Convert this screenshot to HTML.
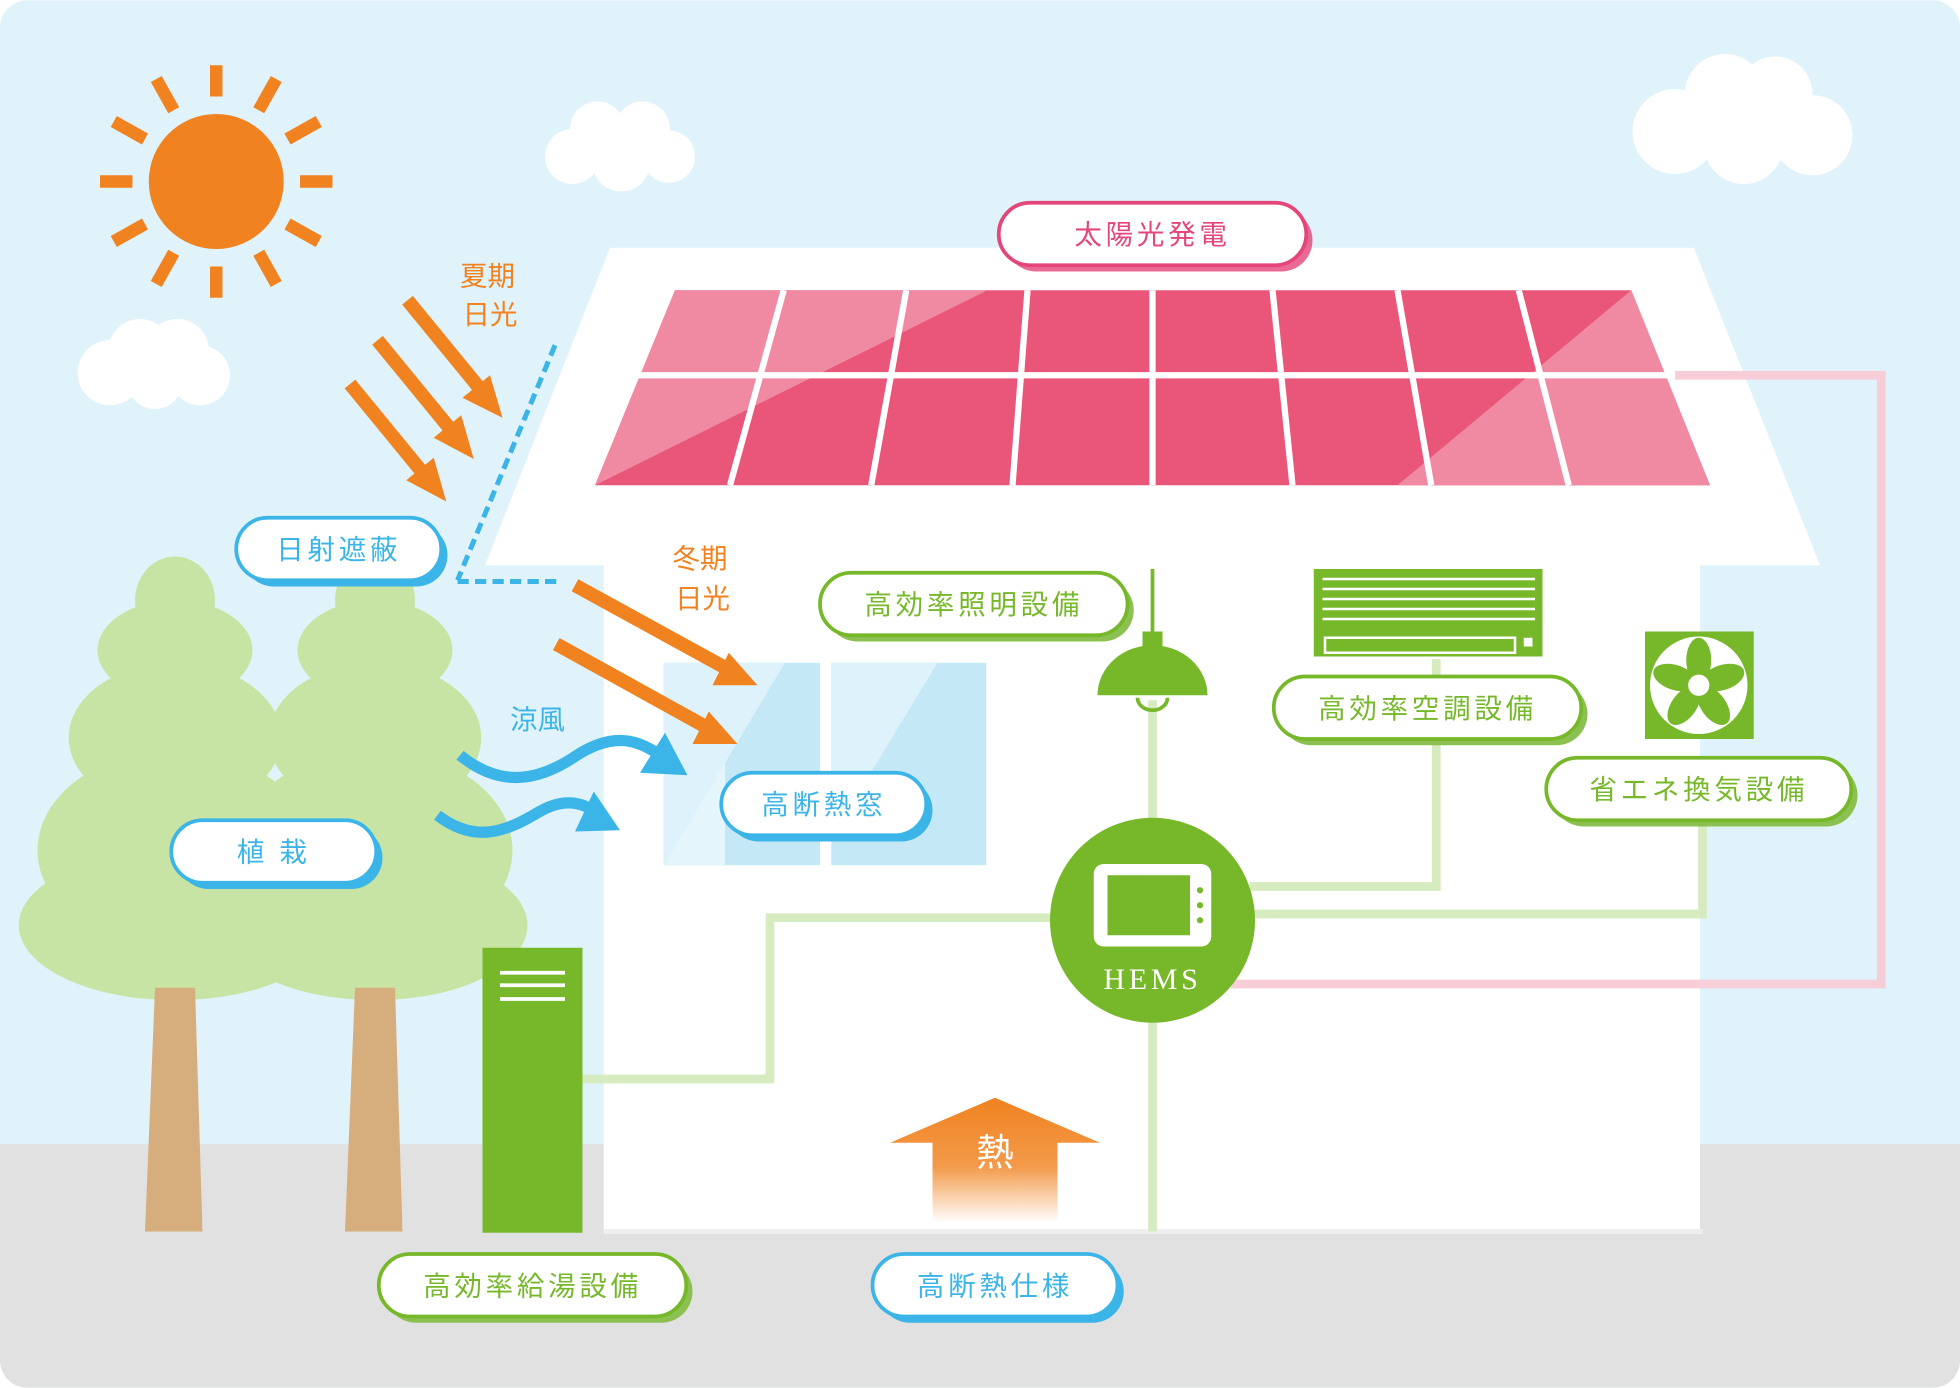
<!DOCTYPE html>
<html><head><meta charset="utf-8"><style>html,body{margin:0;padding:0;background:#fff}svg{display:block}text{font-family:"Liberation Sans","Noto Sans CJK JP",sans-serif}</style></head>
<body>
<svg width="1960" height="1388" viewBox="0 0 1568 1110" xmlns="http://www.w3.org/2000/svg">
<defs>
<clipPath id="bg"><rect x="0" y="0" width="1568" height="1110" rx="22"/></clipPath>
<linearGradient id="heat" x1="0" y1="0" x2="0" y2="1"><stop offset="0" stop-color="#f08220"/><stop offset="0.55" stop-color="#f39a4a"/><stop offset="1" stop-color="#fff"/></linearGradient>
</defs>
<g clip-path="url(#bg)">
<rect width="1568" height="1110" fill="#e0f3fa"/>
<rect y="915" width="1568" height="195" fill="#e1e1e1"/>
</g>
<!-- sun -->
<g fill="#f08220">
<circle cx="173" cy="145" r="54"/>
<g stroke="#f08220" stroke-width="10">
<line x1="173" y1="52" x2="173" y2="77"/><line x1="173" y1="213" x2="173" y2="238"/>
<line x1="80" y1="145" x2="106" y2="145"/><line x1="240" y1="145" x2="266" y2="145"/>
<line x1="125" y1="63" x2="139" y2="88"/><line x1="207" y1="202" x2="221" y2="227"/>
<line x1="91" y1="97" x2="116" y2="111"/><line x1="230" y1="179" x2="255" y2="193"/>
<line x1="221" y1="63" x2="207" y2="88"/><line x1="139" y1="202" x2="125" y2="227"/>
<line x1="255" y1="97" x2="230" y2="111"/><line x1="116" y1="179" x2="91" y2="193"/>
</g></g>
<!-- clouds -->
<g fill="#fff">
<circle cx="88" cy="298" r="26"/><circle cx="112" cy="280" r="25"/><circle cx="142" cy="280" r="25"/><circle cx="160" cy="300" r="24"/><circle cx="124" cy="305" r="22"/>
<circle cx="458" cy="125" r="22"/><circle cx="478" cy="103" r="22"/><circle cx="514" cy="103" r="22"/><circle cx="535" cy="125" r="21"/><circle cx="497" cy="130" r="23"/>
<circle cx="1340" cy="105" r="34"/><circle cx="1380" cy="75" r="32"/><circle cx="1420" cy="75" r="30"/><circle cx="1450" cy="108" r="32"/><circle cx="1395" cy="115" r="32"/>
</g>
<!-- house -->
<polygon points="488,198 1355,198 1456,452 388,452" fill="#fff"/>
<rect x="483" y="450" width="877" height="535" fill="#fff"/>
<rect x="483" y="983" width="879" height="4" fill="#eee"/>
<!-- panels -->
<polygon points="540,232 1305,232 1368,388 476,388" fill="#e95679"/>
<polygon points="540,232 790,232 476,388" fill="#f08aa3"/>
<polygon points="1305,232 1368,388 1118,388" fill="#f08aa3"/>
<g stroke="#fff" stroke-width="5">
<line x1="500" y1="300" x2="1345" y2="300"/>
<line x1="627" y1="232" x2="584" y2="388"/><line x1="725" y1="232" x2="697" y2="388"/>
<line x1="822" y1="232" x2="810" y2="388"/><line x1="922" y1="232" x2="922" y2="388"/>
<line x1="1018" y1="232" x2="1034" y2="388"/><line x1="1118" y1="232" x2="1145" y2="388"/>
<line x1="1215" y1="232" x2="1255" y2="388"/>
</g>
<!-- lines -->
<polyline points="1340,300 1505,300 1505,787 985,787" fill="none" stroke="#f7cdd8" stroke-width="7"/>
<g fill="none" stroke="#d6ebc0" stroke-width="7">
<polyline points="466,863 616,863 616,734 842,734"/>
<line x1="922" y1="560" x2="922" y2="985"/>
<polyline points="1000,709 1149,709 1149,527"/>
<polyline points="1000,731 1362,731 1362,655"/>
</g>
<!-- windows -->
<rect x="531" y="530" width="125" height="162" fill="#c5e8f7"/>
<rect x="665" y="530" width="124" height="162" fill="#c5e8f7"/>
<polygon points="531,530 628,530 531,692" fill="#def2fb"/>
<polygon points="665,530 750,530 665,670" fill="#def2fb"/>
<polygon points="531,692 580,610 580,692" fill="#e4f5fc"/>
<!-- trees -->
<g fill="#c8e4a4">
<ellipse cx="140" cy="480" rx="32" ry="35"/><ellipse cx="140" cy="520" rx="62" ry="40"/><ellipse cx="140" cy="590" rx="85" ry="60"/><ellipse cx="140" cy="680" rx="110" ry="80"/><ellipse cx="140" cy="740" rx="125" ry="60"/><rect x="40" y="640" width="200" height="150" rx="40"/>
<ellipse cx="300" cy="480" rx="32" ry="35"/><ellipse cx="300" cy="520" rx="62" ry="40"/><ellipse cx="300" cy="590" rx="85" ry="60"/><ellipse cx="300" cy="680" rx="110" ry="80"/><ellipse cx="300" cy="740" rx="122" ry="60"/><rect x="200" y="640" width="200" height="150" rx="40"/>
</g>
<polygon points="124,790 156,790 162,985 116,985" fill="#d6ae7e"/>
<polygon points="284,790 316,790 322,985 276,985" fill="#d6ae7e"/>
<!-- water heater -->
<rect x="386" y="758" width="80" height="228" fill="#76b82a"/>
<g stroke="#fff" stroke-width="3"><line x1="400" y1="778" x2="452" y2="778"/><line x1="400" y1="788" x2="452" y2="788"/><line x1="400" y1="799" x2="452" y2="799"/></g>
<!-- light -->
<line x1="922" y1="455" x2="922" y2="510" stroke="#76b82a" stroke-width="3"/>
<rect x="914" y="505" width="16" height="14" fill="#76b82a"/>
<path d="M878,556 A44,40 0 0 1 966,556 Z" fill="#76b82a"/>
<path d="M910,558 A12,10 0 0 0 934,558" fill="none" stroke="#76b82a" stroke-width="3"/>
<!-- AC -->
<rect x="1051" y="455" width="183" height="70" fill="#76b82a"/>
<g stroke="#fff" stroke-width="2"><line x1="1058" y1="463" x2="1228" y2="463"/><line x1="1058" y1="471" x2="1228" y2="471"/><line x1="1058" y1="479" x2="1228" y2="479"/><line x1="1058" y1="487" x2="1228" y2="487"/><line x1="1058" y1="495" x2="1228" y2="495"/></g>
<rect x="1060" y="510" width="152" height="12" fill="none" stroke="#fff" stroke-width="2"/>
<rect x="1219" y="510" width="7" height="7" fill="#fff"/>
<!-- fan -->
<rect x="1316" y="505" width="87" height="86" fill="#76b82a"/>
<circle cx="1359" cy="548" r="39" fill="#fff"/>
<g fill="#76b82a">
<ellipse cx="1359" cy="528" rx="10" ry="18"/>
<ellipse cx="1359" cy="528" rx="10" ry="18" transform="rotate(72 1359 548)"/>
<ellipse cx="1359" cy="528" rx="10" ry="18" transform="rotate(144 1359 548)"/>
<ellipse cx="1359" cy="528" rx="10" ry="18" transform="rotate(216 1359 548)"/>
<ellipse cx="1359" cy="528" rx="10" ry="18" transform="rotate(288 1359 548)"/>
</g>
<circle cx="1359" cy="548" r="10" fill="#fff" stroke="#76b82a" stroke-width="3"/>
<!-- HEMS -->
<circle cx="922" cy="736" r="82" fill="#76b82a"/>
<rect x="875" y="691" width="94" height="66" rx="8" fill="#fff"/>
<rect x="886" y="700" width="66" height="48" fill="#76b82a"/>
<circle cx="960" cy="712" r="2.5" fill="#76b82a"/><circle cx="960" cy="724" r="2.5" fill="#76b82a"/><circle cx="960" cy="736" r="2.5" fill="#76b82a"/>
<text x="922" y="791" text-anchor="middle" fill="#fff" font-size="24" letter-spacing="3" style="font-family:'Liberation Serif',serif">HEMS</text>
<!-- heat arrow -->
<polygon points="712,914 796,878 880,914 846,914 846,978 746,978 746,914" fill="url(#heat)"/>
<text x="796" y="932" text-anchor="middle" fill="#fff" font-size="30">熱</text>
<!-- shading dashed -->
<g stroke="#3bb4e8" stroke-width="4" stroke-dasharray="9,5" fill="none">
<line x1="444" y1="276" x2="366" y2="464"/><line x1="366" y1="465" x2="448" y2="465"/>
</g>
<!-- sun arrows -->
<g stroke="#f08220" stroke-width="11" fill="#f08220">
<line x1="326" y1="240" x2="385" y2="312"/><polygon points="402,334 370,318 392,300" stroke="none"/>
<line x1="302" y1="272" x2="361" y2="344"/><polygon points="379,367 347,350 369,332" stroke="none"/>
<line x1="280" y1="307" x2="339" y2="379"/><polygon points="357,401 325,384 347,366" stroke="none"/>
<line x1="460" y1="468" x2="582" y2="535"/><polygon points="606,548 570,548 583,522" stroke="none"/>
<line x1="445" y1="515" x2="566" y2="582"/><polygon points="590,595 554,595 567,569" stroke="none"/>
</g>
<!-- wind arrows -->
<g fill="none" stroke="#3bb4e8" stroke-width="9">
<path d="M368,604 C400,630 430,625 460,605 C490,585 510,592 525,602"/>
<path d="M350,652 C380,675 405,665 430,650 C455,635 470,645 478,650"/>
</g>
<polygon points="550,620 512,618 532,586" fill="#3bb4e8"/>
<polygon points="496,664 460,665 475,633" fill="#3bb4e8"/>
<!-- side texts -->
<g font-size="22" fill="#f08220">
<text x="368" y="228">夏期</text><text x="370" y="259">日光</text>
<text x="538" y="454">冬期</text><text x="540" y="486">日光</text>
</g>
<text x="408" y="583" font-size="22" fill="#3bb4e8">涼風</text>
<!-- labels -->
<g font-size="22" text-anchor="middle" letter-spacing="3">
<rect x="804" y="167" width="246" height="50" rx="25" fill="#e4467a" opacity="0.8"/>
<rect x="799" y="162" width="246" height="50" rx="25" fill="#fff" stroke="#e4467a" stroke-width="3"/>
<text x="922" y="195" fill="#e4467a">太陽光発電</text>

<rect x="194" y="419" width="164" height="50" rx="25" fill="#3bb4e8"/>
<rect x="189" y="414" width="164" height="50" rx="25" fill="#fff" stroke="#3bb4e8" stroke-width="3"/>
<text x="271" y="447" fill="#3bb4e8">日射遮蔽</text>

<rect x="142" y="661" width="164" height="50" rx="25" fill="#3bb4e8"/>
<rect x="137" y="656" width="164" height="50" rx="25" fill="#fff" stroke="#3bb4e8" stroke-width="3"/>
<text x="219" y="689" fill="#3bb4e8">植 栽</text>

<rect x="582" y="623" width="164" height="50" rx="25" fill="#3bb4e8"/>
<rect x="577" y="618" width="164" height="50" rx="25" fill="#fff" stroke="#3bb4e8" stroke-width="3"/>
<text x="659" y="651" fill="#3bb4e8">高断熱窓</text>

<rect x="703" y="1008" width="196" height="50" rx="25" fill="#3bb4e8"/>
<rect x="698" y="1003" width="196" height="50" rx="25" fill="#fff" stroke="#3bb4e8" stroke-width="3"/>
<text x="796" y="1036" fill="#3bb4e8">高断熱仕様</text>

<rect x="308" y="1008" width="246" height="50" rx="25" fill="#8cc152"/>
<rect x="303" y="1003" width="246" height="50" rx="25" fill="#fff" stroke="#76b82a" stroke-width="3"/>
<text x="426" y="1036" fill="#76b82a">高効率給湯設備</text>

<rect x="661" y="463" width="246" height="50" rx="25" fill="#8cc152"/>
<rect x="656" y="458" width="246" height="50" rx="25" fill="#fff" stroke="#76b82a" stroke-width="3"/>
<text x="779" y="491" fill="#76b82a">高効率照明設備</text>

<rect x="1024" y="546" width="246" height="50" rx="25" fill="#8cc152"/>
<rect x="1019" y="541" width="246" height="50" rx="25" fill="#fff" stroke="#76b82a" stroke-width="3"/>
<text x="1142" y="574" fill="#76b82a">高効率空調設備</text>

<rect x="1242" y="611" width="244" height="50" rx="25" fill="#8cc152"/>
<rect x="1237" y="606" width="244" height="50" rx="25" fill="#fff" stroke="#76b82a" stroke-width="3"/>
<text x="1359" y="639" fill="#76b82a">省エネ換気設備</text>
</g>
</svg>
</body></html>
